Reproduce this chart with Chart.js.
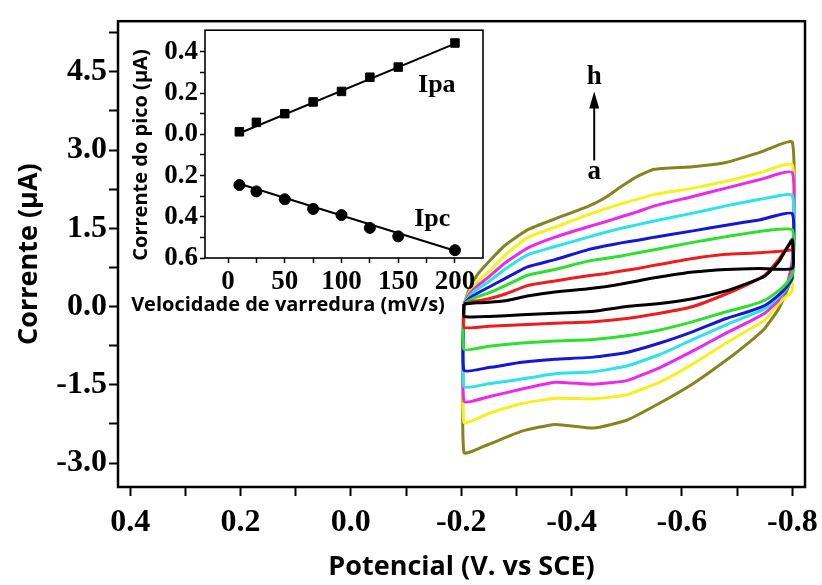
<!DOCTYPE html>
<html>
<head>
<meta charset="utf-8">
<script src="https://cdn.jsdelivr.net/npm/chart.js@4.4.1/dist/chart.umd.min.js"></script>
<style>
  body { margin: 0; background: #fff; }
  #wrap { position: relative; width: 822px; height: 585px; }
  #cv-chart { position: absolute; left: 0; top: 0; }
  #inset-chart { position: absolute; left: 125px; top: 12px; }
</style>
</head>
<body>
<div id="wrap">
  <canvas id="cv-chart" width="822" height="585"></canvas>
  <canvas id="inset-chart" width="370" height="320"></canvas>
</div>
<script>
// potential grids (V) for the forward (upper) and return (lower) branches
var upperE = [-0.205, -0.215, -0.23, -0.25, -0.28, -0.32, -0.37, -0.43, -0.46, -0.49, -0.52, -0.55, -0.62, -0.68, -0.74, -0.80];
var lowerE = [-0.80, -0.79, -0.775, -0.75, -0.72, -0.68, -0.62, -0.56, -0.50, -0.44, -0.37, -0.31, -0.25, -0.205];

// current (uA), curves a..h
var upper_a = [0.05, 0.06, 0.07, 0.08, 0.11, 0.20, 0.28, 0.34, 0.38, 0.43, 0.49, 0.55, 0.66, 0.71, 0.73, 0.73];
var lower_a = [1.28, 1.12, 0.85, 0.58, 0.45, 0.30, 0.15, 0.06, 0.00, -0.09, -0.13, -0.16, -0.19, -0.19];
var upper_b = [0.05, 0.08, 0.11, 0.15, 0.24, 0.40, 0.49, 0.59, 0.63, 0.68, 0.73, 0.79, 0.92, 1.00, 1.03, 1.09];
var lower_b = [1.26, 1.12, 0.90, 0.60, 0.43, 0.24, 0.00, -0.13, -0.23, -0.29, -0.32, -0.35, -0.38, -0.40];
var upper_c = [0.05, 0.12, 0.19, 0.26, 0.40, 0.60, 0.71, 0.87, 0.92, 0.97, 1.03, 1.09, 1.23, 1.34, 1.44, 1.47];
var lower_c = [0.62, 0.45, 0.30, 0.12, 0.01, -0.10, -0.29, -0.45, -0.56, -0.63, -0.66, -0.70, -0.76, -0.82];
var upper_d = [0.05, 0.16, 0.26, 0.37, 0.54, 0.76, 0.90, 1.09, 1.16, 1.22, 1.27, 1.33, 1.45, 1.56, 1.66, 1.78];
var lower_d = [0.55, 0.38, 0.22, 0.02, -0.10, -0.23, -0.48, -0.70, -0.88, -0.97, -1.01, -1.07, -1.17, -1.22];
var upper_e = [0.05, 0.20, 0.34, 0.48, 0.72, 0.99, 1.15, 1.33, 1.42, 1.50, 1.57, 1.64, 1.79, 1.93, 2.05, 2.13];
var lower_e = [0.55, 0.36, 0.18, -0.04, -0.18, -0.35, -0.63, -0.92, -1.14, -1.25, -1.29, -1.39, -1.48, -1.53];
var upper_f = [0.05, 0.24, 0.40, 0.57, 0.84, 1.12, 1.33, 1.53, 1.62, 1.72, 1.82, 1.93, 2.11, 2.27, 2.43, 2.57];
var lower_f = [0.90, 0.40, 0.12, -0.13, -0.30, -0.51, -0.85, -1.17, -1.42, -1.49, -1.45, -1.58, -1.73, -1.82];
var upper_g = [0.05, 0.28, 0.48, 0.67, 0.99, 1.32, 1.52, 1.76, 1.87, 1.97, 2.06, 2.15, 2.27, 2.40, 2.56, 2.72];
var lower_g = [0.30, 0.20, 0.05, -0.26, -0.45, -0.70, -1.10, -1.45, -1.69, -1.77, -1.76, -1.86, -2.05, -2.22];
var upper_h = [0.05, 0.35, 0.62, 0.86, 1.18, 1.47, 1.68, 1.92, 2.08, 2.30, 2.50, 2.63, 2.68, 2.76, 2.95, 3.15];
var lower_h = [0.60, 0.30, -0.05, -0.42, -0.70, -1.03, -1.48, -1.85, -2.18, -2.33, -2.26, -2.39, -2.64, -2.80];

var curveColors = ["#000000", "#ee1c1c", "#2ee02e", "#1616d6", "#2ae4ea", "#ec28ec", "#f6f01c", "#86841e"];

// axis ticks (labels shown on the major ones only)
var xTickValues = [0.4, 0.3, 0.2, 0.1, 0.0, -0.1, -0.2, -0.3, -0.4, -0.5, -0.6, -0.7, -0.8];
var yTickValues = [-3.0, -2.25, -1.5, -0.75, 0.0, 0.75, 1.5, 2.25, 3.0, 3.75, 4.5, 5.25];

// inset: peak current vs scan rate
var scanRate = [10, 25, 50, 75, 100, 125, 150, 200];
var ipa = [0.012, 0.058, 0.10, 0.157, 0.208, 0.277, 0.326, 0.443];
var ipc = [-0.246, -0.277, -0.315, -0.362, -0.392, -0.454, -0.495, -0.562];
var fitRate = [10, 200];
var ipaFit = [0.005, 0.44];
var ipcFit = [-0.24, -0.565];
var insetXTicks = [0, 25, 50, 75, 100, 125, 150, 175, 200];
var insetYTicks = [-0.6, -0.5, -0.4, -0.3, -0.2, -0.1, 0.0, 0.1, 0.2, 0.3, 0.4];

var serif = '"Liberation Serif", "Times New Roman", serif';
var sans = '"Open Sans", "Noto Sans", sans-serif';

function loopPoints(up, low) {
  var pts = [];
  upperE.forEach(function (e, i) { pts.push({ x: e, y: up[i] }); });
  lowerE.forEach(function (e, i) { pts.push({ x: e, y: low[i] }); });
  pts.push({ x: upperE[0], y: up[0] });
  return pts;
}

function onStep(v, step) {
  return Math.abs(v / step - Math.round(v / step)) < 1e-6;
}

function setTicks(values) {
  return function (s) {
    s.ticks = values.map(function (v) { return { value: v }; });
  };
}

// fixed axis box, no extra room for overhanging labels
function fixHeight(h) {
  return function (s) {
    s.height = h;
    s.paddingLeft = 0;
    s.paddingRight = 0;
  };
}

var frame = {
  id: "frame",
  afterDraw: function (chart, args, opts) {
    var a = chart.chartArea, c = chart.ctx;
    c.save();
    c.strokeStyle = "#000";
    c.lineWidth = opts.width || 2;
    c.strokeRect(a.left, a.top, a.right - a.left, a.bottom - a.top);
    c.restore();
  }
};

// "a -> h" arrow
var arrow = {
  id: "arrow",
  afterDraw: function (chart) {
    var c = chart.ctx, x = chart.scales.x.getPixelForValue(-0.441);
    var y = chart.scales.y;
    c.save();
    c.fillStyle = "#000";
    c.strokeStyle = "#000";
    c.lineWidth = 2;
    c.beginPath();
    c.moveTo(x, y.getPixelForValue(2.8));
    c.lineTo(x, y.getPixelForValue(3.85));
    c.stroke();
    var tip = y.getPixelForValue(4.12);
    c.beginPath();
    c.moveTo(x, tip);
    c.lineTo(x - 5, tip + 17);
    c.lineTo(x + 5, tip + 17);
    c.closePath();
    c.fill();
    c.font = "bold 27px " + serif;
    c.textAlign = "center";
    c.textBaseline = "middle";
    c.fillText("h", x, y.getPixelForValue(4.4));
    c.fillText("a", x, y.getPixelForValue(2.58));
    c.restore();
  }
};

var cvCtx = document.getElementById("cv-chart").getContext("2d");
var cvChart = new Chart(cvCtx, {
  type: "scatter",
  data: {
    datasets: [
      { label: "a", data: loopPoints(upper_a, lower_a) },
      { label: "b", data: loopPoints(upper_b, lower_b) },
      { label: "c", data: loopPoints(upper_c, lower_c) },
      { label: "d", data: loopPoints(upper_d, lower_d) },
      { label: "e", data: loopPoints(upper_e, lower_e) },
      { label: "f", data: loopPoints(upper_f, lower_f) },
      { label: "g", data: loopPoints(upper_g, lower_g) },
      { label: "h", data: loopPoints(upper_h, lower_h) }
    ].map(function (d, i) {
      d.showLine = true;
      d.borderColor = curveColors[i];
      d.borderWidth = 3;
      d.pointRadius = 0;
      d.tension = 0.15;
      d.fill = false;
      return d;
    })
  },
  options: {
    responsive: false,
    animation: false,
    layout: { padding: { top: 12, right: 17, left: 0, bottom: 0 } },
    plugins: {
      legend: { display: false },
      tooltip: { enabled: false },
      frame: { width: 2.5 }
    },
    scales: {
      x: {
        type: "linear",
        reverse: true,
        min: -0.823,
        max: 0.422,
        afterFit: fixHeight(98),
        afterBuildTicks: setTicks(xTickValues),
        grid: { drawOnChartArea: false, tickLength: 9, tickWidth: 2, tickColor: "#000" },
        border: { display: false },
        ticks: {
          padding: 8,
          color: "#000",
          font: { family: serif, size: 32, weight: "bold" },
          maxRotation: 0,
          autoSkip: false,
          callback: function (v) { return onStep(v, 0.2) ? v.toFixed(1) : ""; }
        },
        title: {
          display: true,
          text: "Potencial (V. vs SCE)",
          color: "#000",
          font: { family: sans, size: 27, weight: "bold" },
          padding: { top: 0, bottom: 1 }
        }
      },
      y: {
        type: "linear",
        min: -3.46,
        max: 5.47,
        afterFit: function (s) { s.width = 118; },
        afterBuildTicks: setTicks(yTickValues),
        grid: { drawOnChartArea: false, tickLength: 9, tickWidth: 2, tickColor: "#000" },
        border: { display: false },
        ticks: {
          padding: 2,
          color: "#000",
          font: { family: serif, size: 32, weight: "bold" },
          autoSkip: false,
          callback: function (v) { return onStep(v, 1.5) ? v.toFixed(1) : ""; }
        },
        title: {
          display: true,
          text: "Corrente (\u00b5A)",
          color: "#000",
          font: { family: sans, size: 27, weight: "bold" },
          padding: { top: 13, bottom: 0 }
        }
      }
    }
  },
  plugins: [frame, arrow]
});

// inset texts
var insetText = {
  id: "insetText",
  afterDraw: function (chart) {
    var c = chart.ctx, x = chart.scales.x, y = chart.scales.y;
    c.save();
    c.fillStyle = "#000";
    c.textAlign = "center";
    c.textBaseline = "middle";
    c.font = "bold 26px " + serif;
    c.fillText("Ipa", x.getPixelForValue(184), y.getPixelForValue(0.24));
    c.fillText("Ipc", x.getPixelForValue(180), y.getPixelForValue(-0.41));
    c.font = "bold 20px " + sans;
    c.fillText("Velocidade de varredura (mV/s)", 163, 293);
    c.translate(16, 143);
    c.rotate(-Math.PI / 2);
    c.fillText("Corrente do pico (\u00b5A)", 0, 0);
    c.restore();
  }
};

function xy(xs, ys) {
  return xs.map(function (v, i) { return { x: v, y: ys[i] }; });
}

var insetCtx = document.getElementById("inset-chart").getContext("2d");
var insetChart = new Chart(insetCtx, {
  type: "scatter",
  data: {
    datasets: [
      { label: "Ipa", data: xy(scanRate, ipa), pointStyle: "rect", pointRadius: 6, backgroundColor: "#000", borderColor: "#000" },
      { label: "Ipc", data: xy(scanRate, ipc), pointStyle: "circle", pointRadius: 5.5, backgroundColor: "#000", borderColor: "#000" },
      { label: "Ipa fit", data: xy(fitRate, ipaFit), showLine: true, pointRadius: 0, borderColor: "#000", borderWidth: 2 },
      { label: "Ipc fit", data: xy(fitRate, ipcFit), showLine: true, pointRadius: 0, borderColor: "#000", borderWidth: 2 }
    ]
  },
  options: {
    responsive: false,
    animation: false,
    layout: { padding: { top: 10, right: 12, left: 0, bottom: 0 } },
    plugins: {
      legend: { display: false },
      tooltip: { enabled: false },
      frame: { width: 1.6 }
    },
    scales: {
      x: {
        type: "linear",
        min: -20.3,
        max: 224.7,
        afterFit: fixHeight(74),
        afterBuildTicks: setTicks(insetXTicks),
        grid: { drawOnChartArea: false, tickLength: 5, tickWidth: 1.5, tickColor: "#000" },
        border: { display: false },
        ticks: {
          padding: 3,
          color: "#000",
          font: { family: serif, size: 27, weight: "bold" },
          maxRotation: 0,
          autoSkip: false,
          callback: function (v) { return onStep(v, 50) ? String(v) : ""; }
        }
      },
      y: {
        type: "linear",
        min: -0.6,
        max: 0.505,
        afterFit: function (s) { s.width = 80; },
        afterBuildTicks: setTicks(insetYTicks),
        grid: { drawOnChartArea: false, tickLength: 5, tickWidth: 1.5, tickColor: "#000" },
        border: { display: false },
        ticks: {
          padding: 2,
          color: "#000",
          font: { family: serif, size: 27, weight: "bold" },
          autoSkip: false,
          callback: function (v) { return onStep(v, 0.2) ? Math.abs(v).toFixed(1) : ""; }
        }
      }
    }
  },
  plugins: [frame, insetText]
});
</script>
</body>
</html>
